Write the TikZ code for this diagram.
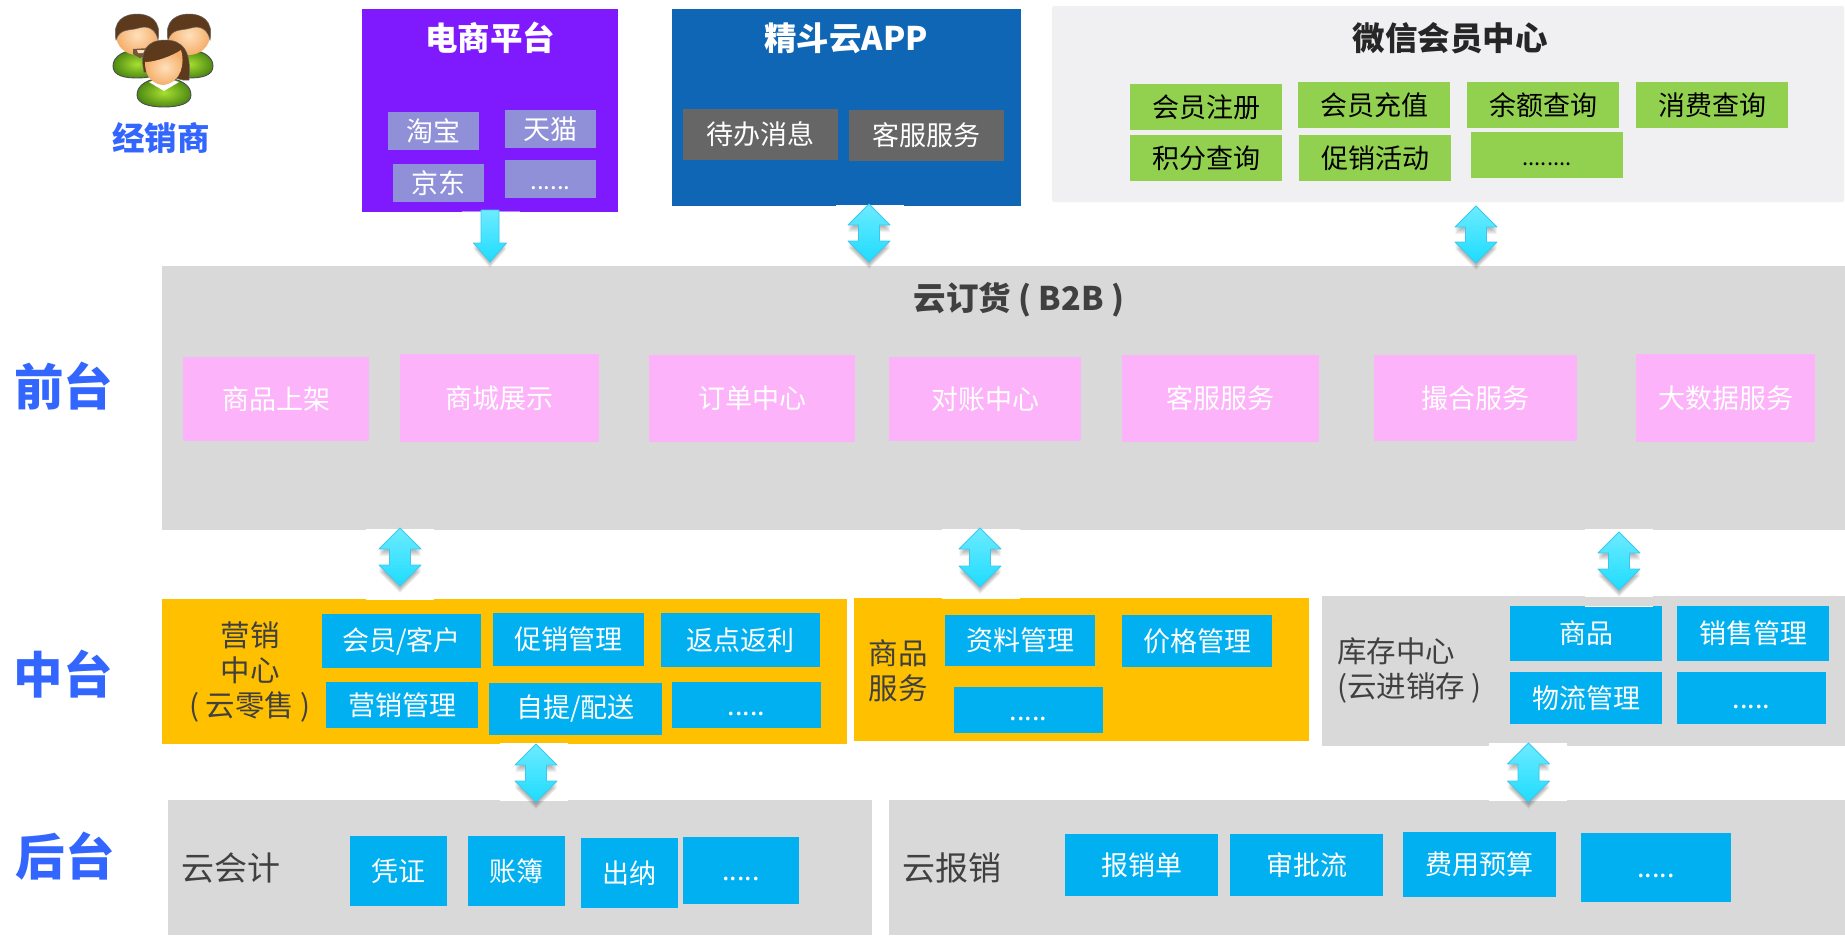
\documentclass[tikz,border=0pt]{standalone}
\usepackage{fontspec}
\setmainfont{Noto Sans CJK SC}
\definecolor{panelgray}{HTML}{D9D9D9}
\definecolor{amber}{HTML}{FFC000}
\definecolor{skyb}{HTML}{00B0F0}
\definecolor{leaf}{HTML}{92D050}
\definecolor{candy}{HTML}{FDB3FA}
\definecolor{violetp}{HTML}{7F1AFF}
\definecolor{lilac}{HTML}{9090D8}
\definecolor{navyb}{HTML}{0F66B5}
\definecolor{slatebox}{HTML}{666666}
\definecolor{paleg}{HTML}{F0F0F2}
\definecolor{tierblue}{HTML}{3366FF}
\definecolor{inkd}{HTML}{404040}
\definecolor{hairb}{HTML}{5E3A1C}
\definecolor{bodyin}{HTML}{A8E030}
\definecolor{bodyout}{HTML}{4E8A14}
\definecolor{skinin}{HTML}{FFE0BC}
\definecolor{skinout}{HTML}{F5AE6A}
\definecolor{arrtop}{HTML}{6CEBFF}
\definecolor{arrmid}{HTML}{80F6FF}
\definecolor{arrbot}{HTML}{1EDCFF}
\definecolor{arredge}{HTML}{3CC8EE}
\newcommand\fs[1]{\fontsize{#1}{#1}\selectfont}
\newcommand\dd[2][22]{\vphantom{中}{\fs{#1}#2}}
\tikzset{
  bxbase/.style={inner sep=0pt,outer sep=0pt,anchor=north west,align=center},
  panelbox/.style={fill=panelgray},
  ambbox/.style={fill=amber},
  bluebox/.style={fill=skyb,text=white,font=\fs{27}},
  greenbox/.style={fill=leaf,text=black,font=\fs{27}},
  pinkbox/.style={fill=candy,text=white,font=\fs{27}},
  lilacbox/.style={fill=lilac,text=white,font=\fs{27}},
  slabox/.style={fill=slatebox,text=white,font=\fs{27}},
  tierlabel/.style={text=tierblue,font=\bfseries\fs{49.5},inner sep=0pt},
  headlabel/.style={font=\bfseries\fs{32.5},inner sep=0pt},
  sidelabel/.style={text=inkd,font=\fontsize{29.5}{35}\selectfont,inner sep=0pt},
  backlabel/.style={text=inkd,font=\fs{33},inner sep=0pt},
  halo/.style={fill=white,draw=none},
  arrowskin/.style={draw=arredge,line width=.8pt,line join=round,top color=arrtop,middle color=arrmid,bottom color=arrbot},
  arrowshade/.style={fill=black,opacity=.05,draw=none},
  bodyskin/.style={draw=black!70,line width=.9pt,inner color=bodyin,outer color=bodyout},
  faceskin/.style={inner color=skinin,outer color=skinout},
  hairskin/.style={draw=black!60,line width=.5pt,fill=hairb},
}
\newcommand\bx[7][]{%
  \pgfmathsetmacro\bxw{#5-#3}\pgfmathsetmacro\bxh{#6-#4}%
  \node[bxbase,minimum width=\bxw pt,minimum height=\bxh pt,#1] (#2) at (#3,#4) {#7};}
% two-way block arrow between two named end coordinates
\newcommand\twopoly{(\ac,\at) -- (\ac+21,\at+21) -- (\ac+10.5,\at+21) -- (\ac+10.5,\ab-21) -- (\ac+21,\ab-21) -- (\ac,\ab) -- (\ac-21,\ab-21) -- (\ac-10.5,\ab-21) -- (\ac-10.5,\at+21) -- (\ac-21,\at+21) -- cycle}
\newcommand\twoarrow[4]{%
  \def\ac{#2}\def\at{#3}\def\ab{#4}%
  \coordinate (#1a) at (#2,#3);\coordinate (#1b) at (#2,#4);%
  \foreach \s in {2,3,4,5,6,7}{\path[arrowshade,shift={(0,\s)}] \twopoly;}%
  \path[arrowskin] \twopoly;}
\begin{document}
\begin{tikzpicture}[x=1pt,y=-1pt]
\useasboundingbox (0,0) rectangle (1845,937);
\fill[white] (0,0) rectangle (1845,937);

% tier labels
\node[tierlabel] (front) at (63.5,386) {前台};
\node[tierlabel] (middle) at (63,674) {中台};
\node[tierlabel] (back) at (65.5,856) {后台};

% icon
\begin{scope}[shift={(137,0)}]
  \path[bodyskin] (-24,66) .. controls (-24,56) and (-12,50) .. (0,50) .. controls (12,50) and (24,56) .. (24,66) .. controls (24,76) and (12,78) .. (0,78) .. controls (-12,78) and (-24,76) .. (-24,66) -- cycle;
  \path[faceskin] (0,35) ellipse [x radius=21,y radius=20];
  \path[hairskin] (-21,40) .. controls (-25,20) and (-12,14) .. (0,14) .. controls (12,14) and (25,20) .. (21,40) .. controls (19,30) and (12,25) .. (2,28) .. controls (-8,31) and (-17,28) .. (-21,40) -- cycle;
  \fill[hairb!85] (-4,49) -- (12,48) -- (11,55) -- (3,58) -- (-4,54) -- cycle;
  \fill[skinin] (0,50) -- (9,50) -- (8,53) -- (1,53) -- cycle;
\end{scope}
\begin{scope}[shift={(189,0)}]
  \path[bodyskin] (-24,66) .. controls (-24,56) and (-12,50) .. (0,50) .. controls (12,50) and (24,56) .. (24,66) .. controls (24,76) and (12,78) .. (0,78) .. controls (-12,78) and (-24,76) .. (-24,66) -- cycle;
  \path[faceskin] (0,35) ellipse [x radius=21,y radius=20];
  \path[hairskin] (-21,40) .. controls (-25,20) and (-12,14) .. (0,14) .. controls (12,14) and (25,20) .. (21,40) .. controls (19,30) and (12,25) .. (2,28) .. controls (-8,31) and (-17,28) .. (-21,40) -- cycle;
\end{scope}
\begin{scope}[shift={(164,0)}]
  \path[bodyskin] (-27,95) .. controls (-27,84) and (-14,78) .. (0,78) .. controls (14,78) and (27,84) .. (27,95) .. controls (27,104) and (14,107) .. (0,107) .. controls (-14,107) and (-27,104) .. (-27,95) -- cycle;
  \fill[white] (-15,82) -- (0,77) -- (15,82) -- (0,91) -- cycle;
  \path[hairskin] (-20,72) .. controls (-25,50) and (-16,40) .. (1,40) .. controls (18,40) and (28,50) .. (25,80) -- (19,80) -- (-16,72) -- cycle;
  \path[faceskin] (-19,62) .. controls (-8,62) and (8,56) .. (17,50) .. controls (21,62) and (18,83) .. (-1,85) .. controls (-16,83) and (-19,72) .. (-19,62) -- cycle;
\end{scope}
\node[text=tierblue,font=\bfseries\fs{32.5},inner sep=0pt] (dealer) at (161,138) {经销商};

% top row panels
\bx[fill=violetp]{ecom}{362}{9}{618}{212}{}
\node[headlabel,text=white] (ecomt) at (490,38) {电商平台};
\bx[lilacbox]{taobao}{388}{112}{479}{150}{淘宝}
\bx[lilacbox]{tmall}{505}{110}{596}{148}{天猫}
\bx[lilacbox]{jd}{393}{164}{484}{202}{京东}
\bx[lilacbox]{ecomm}{505}{160}{596}{198}{\dd[24]{......}}

\bx[fill=navyb]{app}{672}{9}{1021}{206}{}
\node[headlabel,text=white] (appt) at (846,38) {精斗云APP};
\bx[slabox]{todo}{683}{109}{838}{160}{待办消息}
\bx[slabox]{appkf}{849}{110}{1004}{161}{客服服务}

\bx[fill=paleg,rounded corners=2pt,draw=black!3]{wx}{1052}{6}{1844}{202}{}
\node[headlabel,text=black!85] (wxt) at (1450,38) {微信会员中心};
\bx[greenbox]{wx1}{1130}{84}{1282}{130}{会员注册}
\bx[greenbox]{wx2}{1298}{82}{1450}{128}{会员充值}
\bx[greenbox]{wx3}{1467}{82}{1619}{128}{余额查询}
\bx[greenbox]{wx4}{1636}{82}{1788}{128}{消费查询}
\bx[greenbox]{wx5}{1130}{135}{1282}{181}{积分查询}
\bx[greenbox]{wx6}{1299}{135}{1451}{181}{促销活动}
\bx[greenbox]{wx7}{1471}{132}{1623}{178}{\dd{........}}

% B2B panel
\bx[panelbox]{b2b}{162}{266}{1845}{530}{}
\node[headlabel,text=inkd] (b2bt) at (1019,300) {云订货 ( B2B )};
\bx[pinkbox]{p1}{183}{357}{369}{441}{商品上架}
\bx[pinkbox]{p2}{400}{354}{599}{442}{商城展示}
\bx[pinkbox]{p3}{649}{355}{855}{442}{订单中心}
\bx[pinkbox]{p4}{889}{357}{1081}{441}{对账中心}
\bx[pinkbox]{p5}{1122}{355}{1319}{442}{客服服务}
\bx[pinkbox]{p6}{1374}{355}{1577}{441}{撮合服务}
\bx[pinkbox]{p7}{1636}{354}{1815}{442}{大数据服务}

% middle tier
\bx[ambbox]{mkt}{162}{599}{847}{744}{}
\node[sidelabel,align=center] (mktt) at (250,672) {营销\\中心\\( 云零售 )};
\bx[bluebox]{m1}{322}{614}{481}{668}{会员/客户}
\bx[bluebox]{m2}{493}{613}{644}{666}{促销管理}
\bx[bluebox]{m3}{661}{613}{820}{667}{返点返利}
\bx[bluebox]{m4}{326}{682}{478}{728}{营销管理}
\bx[bluebox]{m5}{489}{683}{662}{735}{自提/配送}
\bx[bluebox]{m6}{672}{682}{821}{728}{\dd[27]{.....}}

\bx[ambbox]{goods}{854}{598}{1309}{741}{}
\node[sidelabel,align=center] (goodst) at (898,670.5) {商品\\服务};
\bx[bluebox]{g1}{945}{615}{1095}{666}{资料管理}
\bx[bluebox]{g2}{1122}{615}{1272}{667}{价格管理}
\bx[bluebox]{g3}{954}{687}{1103}{733}{\dd[27]{.....}}

\bx[panelbox]{stock}{1322}{596}{1845}{746}{}
\node[sidelabel,align=left,anchor=west] (stockt) at (1337,670.5) {库存中心\\(云进销存 )};
\bx[bluebox]{s1}{1510}{606}{1662}{661}{商品}
\bx[bluebox]{s2}{1677}{606}{1829}{661}{销售管理}
\bx[bluebox]{s3}{1510}{672}{1662}{724}{物流管理}
\bx[bluebox]{s4}{1677}{672}{1826}{724}{\dd[27]{.....}}

% back tier
\bx[panelbox]{acct}{168}{800}{872}{935}{}
\node[backlabel] (acctt) at (231,868) {云会计};
\bx[bluebox]{a1}{350}{836}{447}{906}{凭证}
\bx[bluebox]{a2}{468}{836}{565}{906}{账簿}
\bx[bluebox]{a3}{581}{838}{678}{908}{出纳}
\bx[bluebox]{a4}{683}{837}{799}{904}{\dd[27]{.....}}

\bx[panelbox]{exp}{889}{800}{1845}{935}{}
\node[backlabel] (expt) at (952,868) {云报销};
\bx[bluebox]{e1}{1065}{834}{1218}{896}{报销单}
\bx[bluebox]{e2}{1230}{834}{1383}{896}{审批流}
\bx[bluebox]{e3}{1403}{832}{1556}{897}{费用预算}
\bx[bluebox]{e4}{1581}{833}{1731}{902}{\dd[27]{.....}}

% halos behind the arrows
\fill[halo] (366,529) rectangle (434,600);
\fill[halo] (942,529) rectangle (1020,599);
\fill[halo] (1585,529) rectangle (1653,597);
\fill[halo] (1585,606) rectangle (1653,607);
\fill[halo] (500,743) rectangle (568,801);
\fill[halo] (1489,743) rectangle (1567,801);
\fill[halo] (836,205) rectangle (904,206);
\fill[white,opacity=.5] (462,211) rectangle (520,212);

% arrows
\coordinate (arr1a) at (490,210);
\coordinate (arr1b) at (490,262);
\foreach \s in {2,3,4,5,6}{\path[arrowshade,shift={(0,\s)}] (481,210) -- (499,210) -- (499,243) -- (506.5,243) -- (490,262) -- (473.5,243) -- (481,243) -- cycle;}
\path[arrowskin] (481,210) -- (499,210) -- (499,243) -- (506.5,243) -- (490,262) -- (473.5,243) -- (481,243) -- cycle;
\twoarrow{arr2}{869}{204}{262}
\twoarrow{arr3}{1476}{206}{263}
\twoarrow{arr4}{400}{528}{586}
\twoarrow{arr5}{980}{528}{587}
\twoarrow{arr6}{1619}{532}{590}
\twoarrow{arr7}{536}{744}{802}
\twoarrow{arr8}{1528.5}{743}{802}
\end{tikzpicture}
\end{document}
